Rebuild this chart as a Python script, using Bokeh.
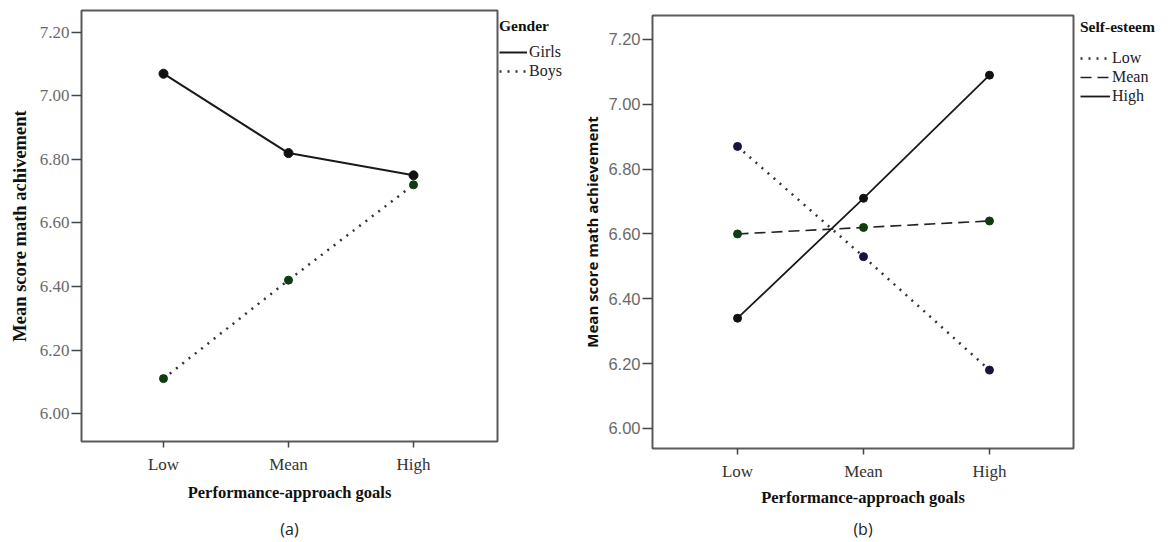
from bokeh.plotting import figure
from bokeh.layouts import row, column
from bokeh.models import Range1d, FixedTicker, Legend, LegendItem, LinearAxis, NumeralTickFormatter
from bokeh.embed import file_html
from bokeh.resources import INLINE

# ---- data ----
levels = ["Low", "Mean", "High"]
y_ticks = [6.00, 6.20, 6.40, 6.60, 6.80, 7.00, 7.20]

girls = [7.07, 6.82, 6.75]
boys = [6.11, 6.42, 6.72]

se_low = [6.87, 6.53, 6.18]
se_mean = [6.60, 6.62, 6.64]
se_high = [6.34, 6.71, 7.09]

x_idx = list(range(len(levels)))
SERIF = "Liberation Serif"
SANS = "Liberation Sans"
H = 542

# line styles
ST_GIRLS = dict(line_color="#1a1a1a", line_width=2)
ST_BOYS = dict(line_color="#333333", line_width=2.5, line_dash="2 6")
ST_LOW = dict(line_color="#333333", line_width=2.5, line_dash="2 6")
ST_MEAN = dict(line_color="#222222", line_width=1.6, line_dash="11 6")
ST_HIGH = dict(line_color="#1a1a1a", line_width=1.8)


def make_fig(width, mbl, mbr, mbt, mbb, y_range, x_range, tick_font, ylabel, ylabel_font, ylabel_size,
             ylab_standoff, xlab_standoff):
    p = figure(width=width, height=H, output_backend="svg", toolbar_location=None,
               x_range=x_range, y_range=y_range,
               min_border_left=mbl, min_border_right=mbr, min_border_top=mbt, min_border_bottom=mbb)
    p.grid.visible = False
    p.outline_line_color = "#5a5a5a"
    p.outline_line_width = 2
    p.background_fill_color = "white"
    p.border_fill_color = "white"

    xa = p.xaxis[0]
    xa.ticker = FixedTicker(ticks=x_idx)
    xa.major_label_overrides = {i: lab for i, lab in zip(x_idx, levels)}
    xa.axis_line_color = None
    xa.major_tick_line_color = "#444444"
    xa.major_tick_line_width = 1.5
    xa.major_tick_out = 6
    xa.major_tick_in = 0
    xa.minor_tick_line_color = None
    xa.major_label_text_font = SERIF
    xa.major_label_text_font_size = "17px"
    xa.major_label_text_color = "#333333"
    xa.major_label_standoff = 7
    xa.axis_label = "Performance-approach goals"
    xa.axis_label_text_font = SERIF
    xa.axis_label_text_font_style = "bold"
    xa.axis_label_text_font_size = "16.5px"
    xa.axis_label_text_color = "#111111"
    xa.axis_label_standoff = xlab_standoff

    ya = p.yaxis[0]
    ya.ticker = FixedTicker(ticks=y_ticks)
    ya.formatter = NumeralTickFormatter(format="0.00")
    ya.axis_line_color = None
    ya.major_tick_line_color = "#444444"
    ya.major_tick_line_width = 1.5
    ya.major_tick_out = 10
    ya.major_tick_in = 0
    ya.minor_tick_line_color = None
    ya.major_label_text_font = tick_font
    ya.major_label_text_font_size = "16.5px" if tick_font == SANS else "17px"
    ya.major_label_text_color = "#6a6a6a"
    ya.major_label_standoff = 2
    ya.axis_label = ylabel
    ya.axis_label_text_font = ylabel_font
    ya.axis_label_text_font_style = "bold"
    ya.axis_label_text_font_size = ylabel_size
    ya.axis_label_text_color = "#111111"
    ya.axis_label_standoff = ylab_standoff
    return p


def add_caption(p, text, standoff):
    cap = LinearAxis(axis_label=text, ticker=FixedTicker(ticks=[]))
    cap.axis_line_color = None
    cap.major_tick_line_color = None
    cap.minor_tick_line_color = None
    cap.major_tick_out = 0
    cap.major_tick_in = 0
    cap.major_label_standoff = 0
    cap.major_label_text_font_size = "0px"
    cap.axis_label_text_font = "Open Sans"
    cap.axis_label_text_font_size = "16px"
    cap.axis_label_text_font_style = "normal"
    cap.axis_label_text_color = "#222222"
    cap.axis_label_standoff = standoff
    p.add_layout(cap, "below")


def legend_fig(width, mbt, mbl):
    q = figure(width=width, height=H, output_backend="svg", toolbar_location=None,
               x_axis_type=None, y_axis_type=None,
               x_range=Range1d(100, 101), y_range=Range1d(100, 101),
               min_border_left=mbl, min_border_right=0, min_border_top=mbt, min_border_bottom=0)
    q.grid.visible = False
    q.outline_line_color = None
    q.background_fill_color = "white"
    q.border_fill_color = "white"
    return q


def style_legend(leg, glyph_w, standoff, pad):
    leg.title_text_font = SERIF
    leg.title_text_font_style = "bold"
    leg.title_text_font_size = "15.5px"
    leg.title_text_color = "#111111"
    leg.title_standoff = standoff
    leg.label_text_font = SERIF
    leg.label_text_font_size = "16px"
    leg.label_text_color = "#222222"
    leg.glyph_width = glyph_w
    leg.glyph_height = 18
    leg.label_height = 18
    leg.label_standoff = 2
    leg.spacing = 1
    leg.padding = pad
    leg.margin = 0
    leg.border_line_color = None
    leg.background_fill_alpha = 0
    leg.inactive_fill_alpha = 0
    leg.location = "top_left"


# ---------------- panel (a) ----------------
pa = make_fig(499, 81, 2, 10, H - 441, Range1d(5.912, 7.269), Range1d(-0.656, 2.672), SERIF,
              "Mean score math achivement", SERIF, "18.5px", 7, 6)
pa.line(x_idx, girls, **ST_GIRLS)
pa.scatter(x_idx, girls, size=9, fill_color="#111111", line_color="#111111")
pa.line(x_idx, boys, **ST_BOYS)
pa.scatter(x_idx, boys, size=8, fill_color="#0f3d12", line_color="#0f3d12")
add_caption(pa, "(a)", 13)

# legend (a): sample lines come from the same series, hidden in the legend strip
la = legend_fig(71, 17, 0)
lg1 = la.line(x_idx, girls, visible=False, **ST_GIRLS)
lg2 = la.line(x_idx, boys, visible=False, **ST_BOYS)
leg_a = Legend(items=[LegendItem(label="Girls", renderers=[lg1]),
                      LegendItem(label="Boys", renderers=[lg2])], title="Gender")
style_legend(leg_a, 28, 8, 1)
la.add_layout(leg_a, "center")

# ---------------- panel (b) ----------------
pb = make_fig(505, 82, 2, 15, H - 448, Range1d(5.938, 7.274), Range1d(-0.675, 2.667), SANS,
              "Mean score math achievement", "Open Sans", "15px", 3, 4)
pb.line(x_idx, se_low, **ST_LOW)
pb.scatter(x_idx, se_low, size=8, fill_color="#15153d", line_color="#15153d")
pb.line(x_idx, se_mean, **ST_MEAN)
pb.scatter(x_idx, se_mean, size=8, fill_color="#0f3d12", line_color="#0f3d12")
pb.line(x_idx, se_high, **ST_HIGH)
pb.scatter(x_idx, se_high, size=8, fill_color="#111111", line_color="#111111")
add_caption(pb, "(b)", 8)

lb = legend_fig(90, 18, 5)
lr1 = lb.line(x_idx, se_low, visible=False, **ST_LOW)
lr2 = lb.line(x_idx, se_mean, visible=False, **ST_MEAN)
lr3 = lb.line(x_idx, se_high, visible=False, **ST_HIGH)
leg_b = Legend(items=[LegendItem(label="Low", renderers=[lr1]),
                      LegendItem(label="Mean", renderers=[lr2]),
                      LegendItem(label="High", renderers=[lr3])], title="Self-esteem")
style_legend(leg_b, 30, 13, 4)
lb.add_layout(leg_b, "center")

layout = row(column(pa), column(la), column(pb), column(lb), spacing=0)
open("out.html", "w").write(file_html(layout, INLINE))
